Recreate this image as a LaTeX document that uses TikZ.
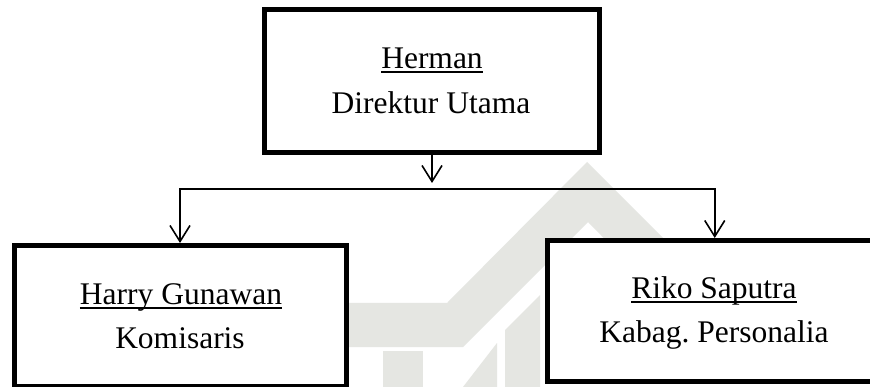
\documentclass[tikz,border=0pt]{standalone}
\usepackage{fontspec}
\setmainfont{Liberation Serif}
\usetikzlibrary{arrows.meta}
\definecolor{wm}{RGB}{229,230,226}
\newcommand\ulx[1]{\setbox0=\hbox{#1}\rlap{\rule[-4pt]{\wd0}{1.5pt}}\box0}
\frenchspacing
\tikzset{
  orgbox/.style={draw=black, line width=5pt, fill=white, minimum width=#1, inner sep=0pt},
  txt/.style={anchor=base, inner sep=0pt, font=\fontsize{31.5}{38}\selectfont},
  arr/.style={draw=black, line width=1.6pt, -{Straight Barb[length=16pt,width=20pt,line width=1.6pt]}},
}
\begin{document}
\begin{tikzpicture}[x=1pt,y=-1pt]
\useasboundingbox (0,0) rectangle (870,387);
\clip (0,0) rectangle (870,387);
\fill[white] (0,0) rectangle (870,387);
% watermark
\fill[wm] (340,303) -- (447,303) -- (587,162) -- (700,275) -- (640,275) -- (588,222) -- (463,347) -- (340,347) -- cycle;
\fill[wm] (383,351) rectangle (423,387);
\fill[wm] (463,387) -- (497,343) -- (497,387) -- cycle;
\fill[wm] (505,387) -- (505,330) -- (540,295) -- (540,387) -- cycle;
% boxes
\node[orgbox=335.5pt, minimum height=143pt] (top) at (432,81) {};
\node[orgbox=332pt, minimum height=141pt] (left) at (180,316) {};
\node[orgbox=334.5pt, minimum height=140.5pt] (right) at (714.75,310.75) {};
% texts
\node[txt] (t1) at (432,69) {\ulx{Herman}};
\node[txt] (t2) at (431,114) {Direktur Utama};
\node[txt] (l1) at (181,305) {\ulx{Harry Gunawan}};
\node[txt] (l2) at (180,348.5) {Komisaris};
\node[txt] (r1) at (714,298.5) {\ulx{Riko Saputra}};
\node[txt] (r2) at (714,342) {Kabag.\ Personalia};
% connectors
\coordinate (tip) at (432,183);
\coordinate (split) at (432,189);
\draw[arr] (top.south) -- (tip);
\draw[arr] (split) -| (left.north);
\draw[arr] (split) -| (right.north);
\end{tikzpicture}
\end{document}
